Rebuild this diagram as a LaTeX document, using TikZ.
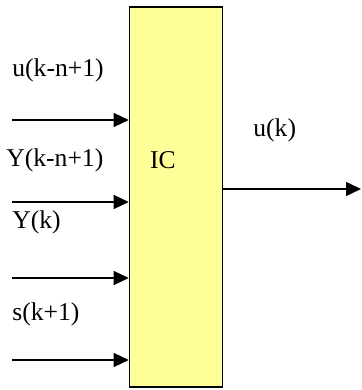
\documentclass[tikz,border=0pt]{standalone}
\usepackage{fontspec}
\setmainfont{Liberation Serif}
\usepackage{tikz}
\usetikzlibrary{arrows.meta}
\definecolor{icfill}{HTML}{FFFF99}

\begin{document}
\begin{tikzpicture}[x=0.5pt,y=0.5pt,font=\fontsize{12.8}{15}\selectfont,
  blk/.style={draw,line width=0.8pt,fill=icfill,minimum width=46.5pt,
              minimum height=190pt,inner sep=0pt},
  ar/.style={-{Triangle[length=7.5pt,width=7pt]},line width=0.7pt},
  lbl/.style={anchor=west,inner sep=0pt},
]
\useasboundingbox (0,0) rectangle (361,390);
\node[blk] (ic) at (176,193) {};
\node (ictxt) at (163,230) {IC};

% inputs
\coordinate (in1) at (12,270);
\coordinate (in2) at (12,188);
\coordinate (in3) at (12,112);
\coordinate (in4) at (12,30);
\draw[ar] (in1) -- (in1 -| ic.west);
\draw[ar] (in2) -- (in2 -| ic.west);
\draw[ar] (in3) -- (in3 -| ic.west);
\draw[ar] (in4) -- (in4 -| ic.west);

\node[lbl] (lu) at (12,320) {u(k-n+1)};
\node[lbl] (ly) at (6,230) {Y(k-n+1)};
\node[lbl] (lyk) at (12,168) {Y(k)};
\node[lbl] (ls) at (12,76) {s(k+1)};

% output
\coordinate (out) at (361,201);
\draw[ar] (ic.east |- out) -- (out);
\node[lbl] (luk) at (253,260) {u(k)};
\end{tikzpicture}
\end{document}
